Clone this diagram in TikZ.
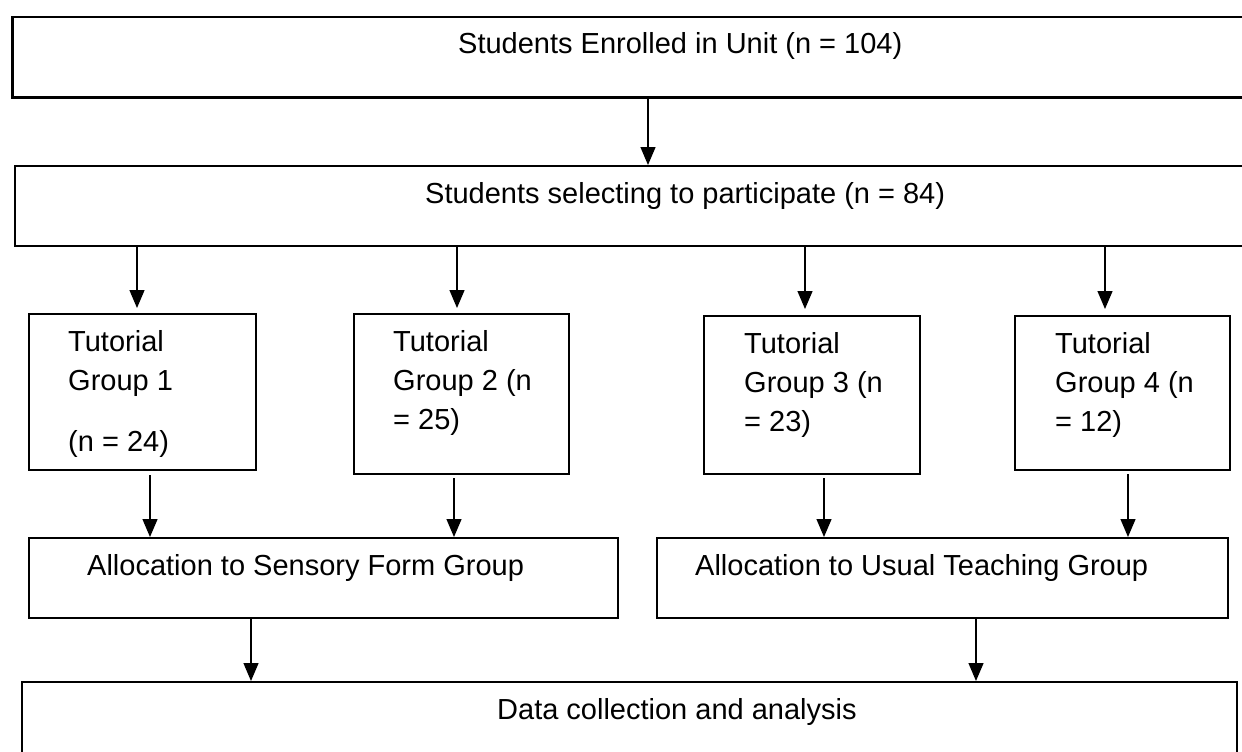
\documentclass[tikz,border=0pt]{standalone}
\usepackage{fontspec}
\setmainfont{Liberation Sans}
\usetikzlibrary{arrows.meta}
\begin{document}
\begin{tikzpicture}[x=1pt,y=-1pt,
  box/.style={draw=black,line width=2pt,rectangle,inner sep=0pt,anchor=north west},
  lbl/.style={inner sep=0pt,anchor=base west,font=\fontsize{29}{39}\selectfont},
  arr/.style={line width=1.3pt,-{Triangle[width=15pt,length=18pt]}}]
\useasboundingbox (0,0) rectangle (1242,752);
\clip (0,0) rectangle (1242,752);
\fill[white] (0,0) rectangle (1242,752);
% boxes
\node[box,minimum width=1260pt,minimum height=80pt,line width=2.5pt] (top) at (11,16) {};
\node[box,minimum width=1260pt,minimum height=80pt] (b2) at (14,165) {};
\node[box,minimum width=227pt,minimum height=156pt] (t1) at (28,313) {};
\node[box,minimum width=215pt,minimum height=160pt] (t2) at (353,313) {};
\node[box,minimum width=216pt,minimum height=158pt] (t3) at (703,315) {};
\node[box,minimum width=215pt,minimum height=154pt] (t4) at (1014,315) {};
\node[box,minimum width=589pt,minimum height=80pt] (sf) at (28,537) {};
\node[box,minimum width=571pt,minimum height=80pt] (ut) at (656,537) {};
\node[box,minimum width=1215pt,minimum height=120pt] (dc) at (21,681) {};
% texts
\node[lbl] (toptx) at (458,53) {Students Enrolled in Unit (n = 104)};
\node[lbl] (b2tx) at (425,203) {Students selecting to participate (n = 84)};
\node[lbl] (t1tx) at (68,351) {\begin{tabular}[t]{@{}l@{}}Tutorial\\Group 1\\[22pt](n = 24)\end{tabular}};
\node[lbl] (t2tx) at (393,351) {\begin{tabular}[t]{@{}l@{}}Tutorial\\Group 2 (n\\= 25)\end{tabular}};
\node[lbl] (t3tx) at (744,353) {\begin{tabular}[t]{@{}l@{}}Tutorial\\Group 3 (n\\= 23)\end{tabular}};
\node[lbl] (t4tx) at (1055,353) {\begin{tabular}[t]{@{}l@{}}Tutorial\\Group 4 (n\\= 12)\end{tabular}};
\node[lbl] (sftx) at (87,575) {Allocation to Sensory Form Group};
\node[lbl] (uttx) at (695,575) {Allocation to Usual Teaching Group};
\node[lbl] (dctx) at (497,719) {Data collection and analysis};
% arrows
\draw[arr] ([xshift=637pt]top.south west) -- ([xshift=634pt]b2.north west);
\draw[arr,shorten >=5pt] ([xshift=123pt]b2.south west) -- ([xshift=109pt]t1.north west);
\draw[arr,shorten >=5pt] ([xshift=443pt]b2.south west) -- ([xshift=104pt]t2.north west);
\draw[arr,shorten >=6pt] ([xshift=791pt]b2.south west) -- ([xshift=102pt]t3.north west);
\draw[arr,shorten >=6pt] ([xshift=1091pt]b2.south west) -- ([xshift=91pt]t4.north west);
\draw[arr,shorten <=4pt] ([xshift=122pt]t1.south west) -- ([xshift=122pt]sf.north west);
\draw[arr,shorten <=3pt] ([xshift=101pt]t2.south west) -- ([xshift=426pt]sf.north west);
\draw[arr,shorten <=3pt] ([xshift=121pt]t3.south west) -- ([xshift=168pt]ut.north west);
\draw[arr,shorten <=3pt] ([xshift=114pt]t4.south west) -- ([xshift=472pt]ut.north west);
\draw[arr] ([xshift=223pt]sf.south west) -- ([xshift=230pt]dc.north west);
\draw[arr] ([xshift=320pt]ut.south west) -- ([xshift=955pt]dc.north west);
\end{tikzpicture}
\end{document}
